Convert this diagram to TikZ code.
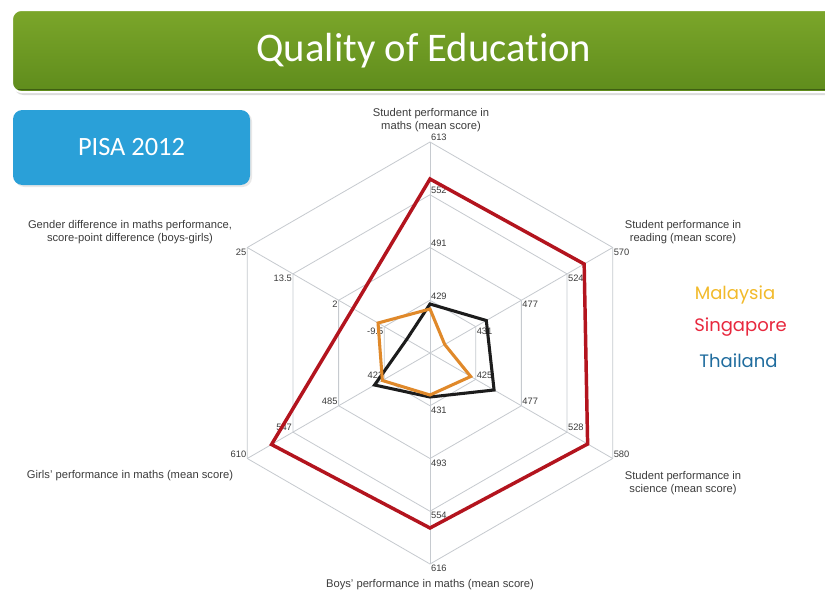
\documentclass[tikz,border=0pt]{standalone}
\usepackage{fontspec}
\setmainfont{Liberation Sans}
\newfontfamily\calib[Ligatures=NoCommon]{Carlito}
\newfontfamily\legfont{Poppins}
\definecolor{gridc}{HTML}{C6CACF}
\definecolor{txtc}{HTML}{3C3C3C}
\definecolor{barTop}{HTML}{7BA62A}
\definecolor{barBot}{HTML}{5F8C1C}
\definecolor{barEdge}{HTML}{3F5F12}
\definecolor{boxBlue}{HTML}{2AA0D8}
\definecolor{sgRed}{HTML}{B3141E}
\definecolor{myOrange}{HTML}{E0892A}
\definecolor{thBlack}{HTML}{1C1C1C}
\definecolor{legMy}{HTML}{F2BA2A}
\definecolor{legSg}{HTML}{E8283E}
\definecolor{legTh}{HTML}{1F6C9E}
\tikzset{
  gridline/.style={draw=gridc, line width=0.6pt},
  ticklbl/.style={font=\fontsize{7}{8}\selectfont, text=txtc, inner sep=0.6pt},
  axislbl/.style={font=\fontsize{8.4}{9.8}\selectfont, text=txtc, align=center, inner sep=0pt},
  dataline/.style={line width=2.3pt, line join=miter},
  legendtxt/.style={font=\legfont\fontsize{13.5}{15}\selectfont, inner sep=0pt},
  titlebar/.style={rectangle, rounded corners=7pt, top color=barTop, bottom color=barBot,
     draw=white, line width=1.5pt, minimum width=618pt, minimum height=61.5pt,
     text=white, font=\calib\fontsize{30.5}{34}\selectfont},
  pisabox/.style={rectangle, rounded corners=7pt, fill=boxBlue, minimum width=177.75pt,
     minimum height=56.25pt, text=white, font=\calib\fontsize{19.8}{22}\selectfont}
}
\begin{document}
\begin{tikzpicture}[x=0.75pt,y=-0.75pt]
\useasboundingbox (0,0) rectangle (825,596);
\clip (0,0) rectangle (825,596);
\fill[white] (0,0) rectangle (825,596);
% header bar
\fill[black!14, rounded corners=7pt] (14,13) rectangle (840,95);
\node[titlebar] (bar) at (424,51) {Quality of Education};
\draw[barEdge, line width=1.2pt] (18,89.3) -- (825,89.3);
% PISA box
\fill[black!9, rounded corners=7pt] (15,112) rectangle (252,187);
\node[pisabox] (pisa) at (131.5,147.5) {PISA 2012};
% radar
\begin{scope}[shift={(430,353)}, x=0.75pt, y=0.75pt]
  \coordinate (ctr) at (0,0);
  \foreach \k/\a in {0/90,1/30,2/-30,3/-90,4/210,5/150} {
    \foreach \r in {1,2,3,4} {
      \coordinate (v\k-\r) at (\a:{\r*52.75});
    }
    \draw[gridline] (ctr) -- (v\k-4);
  }
  \foreach \r in {1,2,3,4} {
    \draw[gridline] (v0-\r) -- (v1-\r) -- (v2-\r) -- (v3-\r) -- (v4-\r) -- (v5-\r) -- cycle;
  }
  % tick labels
  \node[ticklbl, anchor=south west] (t01) at (v0-1) {429};
  \node[ticklbl, anchor=south west] (t02) at (v0-2) {491};
  \node[ticklbl, anchor=south west] (t03) at (v0-3) {552};
  \node[ticklbl, anchor=south west] (t04) at (v0-4) {613};
  \node[ticklbl, anchor=north west] (t11) at (v1-1) {431};
  \node[ticklbl, anchor=north west] (t12) at (v1-2) {477};
  \node[ticklbl, anchor=north west] (t13) at (v1-3) {524};
  \node[ticklbl, anchor=north west] (t14) at (v1-4) {570};
  \node[ticklbl, anchor=south west] (t21) at (v2-1) {425};
  \node[ticklbl, anchor=south west] (t22) at (v2-2) {477};
  \node[ticklbl, anchor=south west] (t23) at (v2-3) {528};
  \node[ticklbl, anchor=south west] (t24) at (v2-4) {580};
  \node[ticklbl, anchor=north west] (t31) at (v3-1) {431};
  \node[ticklbl, anchor=north west] (t32) at (v3-2) {493};
  \node[ticklbl, anchor=north west] (t33) at (v3-3) {554};
  \node[ticklbl, anchor=north west] (t34) at (v3-4) {616};
  \node[ticklbl, anchor=south east] (t41) at (v4-1) {423};
  \node[ticklbl, anchor=south east] (t42) at (v4-2) {485};
  \node[ticklbl, anchor=south east] (t43) at (v4-3) {547};
  \node[ticklbl, anchor=south east] (t44) at (v4-4) {610};
  \node[ticklbl, anchor=north east] (t51) at (v5-1) {-9.5};
  \node[ticklbl, anchor=north east] (t52) at (v5-2) {2};
  \node[ticklbl, anchor=north east] (t53) at (v5-3) {13.5};
  \node[ticklbl, anchor=north east] (t54) at (v5-4) {25};
  % data
  \draw[dataline, sgRed, line width=2.6pt] (90:174) -- (30:178) -- (-30:182) -- (-90:175) -- (210:183) -- (150:89) -- cycle;
  \draw[dataline, thBlack] (90:49) -- (30:65) -- (-30:74) -- (-90:44) -- (210:64) -- (150:27) -- cycle;
  \draw[dataline, myOrange] (90:44) -- (30:17) -- (-30:47) -- (-90:42) -- (210:55) -- (150:60) -- cycle;
\end{scope}
% axis titles
\node[axislbl] (a0) at (431,120.5) {Student performance in\\maths (mean score)};
\node[axislbl] (a1) at (683,232) {Student performance in\\reading (mean score)};
\node[axislbl] (a2) at (683,483.5) {Student performance in\\science (mean score)};
\node[axislbl] (a3) at (430,585) {Boys' performance in maths (mean score)};
\node[axislbl] (a4) at (130,476) {Girls' performance in maths (mean score)};
\node[axislbl] (a5) at (130,232) {Gender difference in maths performance,\\score-point difference (boys-girls)};
% legend
\node[legendtxt, text=legMy] (lmy) at (735,295) {Malaysia};
\node[legendtxt, text=legSg] (lsg) at (740.5,327) {Singapore};
\node[legendtxt, text=legTh] (lth) at (738.5,361) {Thailand};
\end{tikzpicture}
\end{document}
